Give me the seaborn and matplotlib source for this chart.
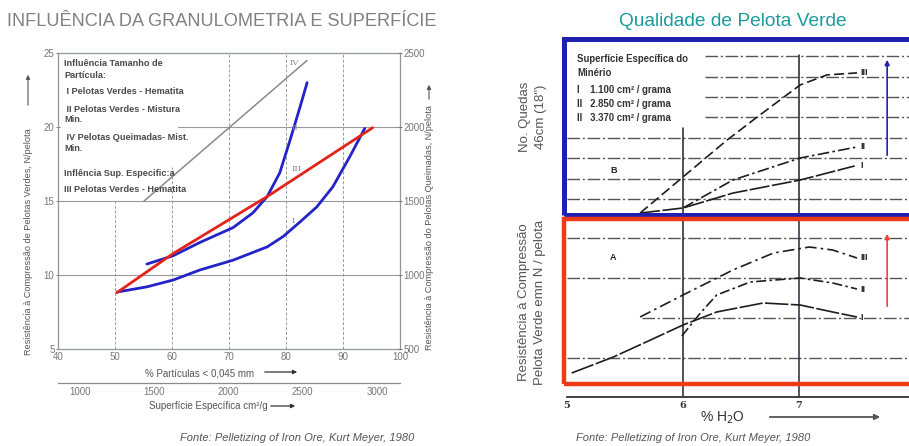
import numpy as np
import pandas as pd
import matplotlib
matplotlib.use("Agg")
import matplotlib.pyplot as plt
import seaborn as sns
from matplotlib.patches import Rectangle, FancyArrowPatch
from matplotlib import font_manager

W, H = 909, 446

# ---------------- data: left chart ----------------
x_I = [50.4, 55.6, 60.2, 64.9, 70.7, 76.7, 79.5, 82.5, 85.4, 88.2, 91.2, 93.8]
y_I = [8.85, 9.2, 9.66, 10.34, 11.0, 11.9, 12.6, 13.6, 14.6, 15.95, 18.0, 19.9]
x_II = [55.6, 60.2, 64.9, 70.7, 74.2, 76.7, 78.9, 80.7, 82.5, 83.7]
y_II = [10.74, 11.3, 12.2, 13.2, 14.2, 15.3, 16.9, 19.1, 21.4, 23.0]
x_III = [50.3, 60.2, 76.7, 95.2]
y_III = [8.8, 11.45, 15.3, 19.95]
x_IV = [55.1, 83.7]
y_IV = [15.0, 24.5]
left_xticks = [40, 50, 60, 70, 80, 90, 100]
left_yticks = [5, 10, 15, 20, 25]
right_yticks = [500, 1000, 1500, 2000, 2500]
surf_ticks = [1000, 1500, 2000, 2500, 3000]

# ---------------- data: right chart ----------------
up_III_x = [5.63, 6.0, 6.38, 6.64, 7.01, 7.24, 7.5]
up_III_y = [0.31, 2.08, 3.89, 5.02, 6.59, 7.08, 7.18]
up_II_x = [6.0, 6.43, 7.01, 7.5]
up_II_y = [0.56, 1.93, 3.01, 3.55]
up_I_x = [5.63, 6.0, 6.43, 7.01, 7.48]
up_I_y = [0.31, 0.56, 1.29, 1.93, 2.62]

lo_I_x = [5.04, 5.40, 5.72, 6.0, 6.29, 6.69, 7.01, 7.29, 7.5]
lo_I_y = [0.625, 1.025, 1.45, 1.825, 2.15, 2.375, 2.325, 2.15, 2.025]
lo_II_x = [5.99, 6.15, 6.29, 6.58, 7.01, 7.29, 7.5]
lo_II_y = [1.55, 2.125, 2.575, 2.9, 3.0, 2.875, 2.725]
lo_III_x = [5.63, 6.0, 6.43, 6.78, 7.09, 7.29, 7.5]
lo_III_y = [2.025, 2.575, 3.2, 3.625, 3.775, 3.7, 3.5]
h2o_ticks = [5, 6, 7]

# ---------------- style ----------------
sns.set_theme(style="white")
names = {f.name for f in font_manager.fontManager.ttflist}
NARROW = 'Liberation Sans Narrow' if 'Liberation Sans Narrow' in names else 'Liberation Sans'
plt.rcParams['font.family'] = ['Liberation Sans', 'DejaVu Sans']

fig = plt.figure(figsize=(W / 100, H / 100), dpi=100)
fig.patch.set_facecolor('white')


def rect(l, t, r, b):
    return [l / W, 1 - b / H, (r - l) / W, (b - t) / H]


def P(x, y):
    return (x / W, 1 - y / H)


def ftext(x, y, s, **kw):
    fig.text(x / W, 1 - y / H, s, **kw)


def farrow(x0, y0, x1, y1, color, lw=1.0, ms=8):
    a = FancyArrowPatch(P(x0, y0), P(x1, y1), transform=fig.transFigure,
                        arrowstyle='-|>', mutation_scale=ms, color=color, lw=lw)
    fig.add_artist(a)


# ================= LEFT CHART =================
ax = fig.add_axes(rect(58, 53, 400, 349))
ax.set_facecolor('none')
ax.set_xlim(40, 100)
ax.set_ylim(5, 25)

grid_c = '#9a9a9a'
for xv, ytop in [(50, 15), (60, 17.3), (70, 25), (80, 25), (90, 25)]:
    ax.plot([xv, xv], [5, ytop], color=grid_c, lw=0.7, ls=(0, (3, 2)), zorder=1)
ax.axhline(10, color=grid_c, lw=0.8, zorder=1)
ax.axhline(15, color=grid_c, lw=0.8, zorder=1)
ax.axhline(20, xmin=(61 - 40) / 60, color=grid_c, lw=0.8, zorder=1)

sns.lineplot(x=x_IV, y=y_IV, ax=ax, color='#8a8a8a', lw=1.1, sort=False, estimator=None)
sns.lineplot(x=x_I, y=y_I, ax=ax, color='#2323c8', lw=2.0, sort=False, estimator=None)
sns.lineplot(x=x_II, y=y_II, ax=ax, color='#2323c8', lw=2.0, sort=False, estimator=None)
sns.lineplot(x=x_III, y=y_III, ax=ax, color='#e3241b', lw=2.0, sort=False, estimator=None)

lab_kw = dict(fontsize=6, color='#8a8a8a', family='DejaVu Serif')
ax.text(80.7, 24.2, 'IV', **lab_kw)
ax.text(80.9, 19.8, 'II', **lab_kw)
ax.text(81.0, 17.0, 'III', **lab_kw)
ax.text(80.9, 13.5, 'I', **lab_kw)

for sp in ax.spines.values():
    sp.set_color('#8f9a8f')
    sp.set_linewidth(0.9)
ax.set_xticks(left_xticks)
ax.set_yticks(left_yticks)
ax.tick_params(axis='both', labelsize=7, colors='#777777', length=3, width=0.7,
               direction='inout', pad=1)
for t in ax.get_xticklabels() + ax.get_yticklabels():
    t.set_family(NARROW)
ax.set_xlabel('')
ax.set_ylabel('')

ax2 = ax.twinx()
ax2.set_ylim(500, 2500)
ax2.set_yticks(right_yticks)
ax2.tick_params(axis='y', labelsize=7, colors='#777777', length=3, width=0.7,
                direction='inout', pad=1)
for t in ax2.get_yticklabels():
    t.set_family(NARROW)
for sp in ax2.spines.values():
    sp.set_visible(False)
ax2.grid(False)


def fwd(x):
    return 1000 + (np.asarray(x) - 43.86) * 2000 / 52.1


def inv(s):
    return 43.86 + (np.asarray(s) - 1000) * 52.1 / 2000


sec = ax.secondary_xaxis(-0.115, functions=(fwd, inv))
sec.set_xticks(surf_ticks)
sec.tick_params(labelsize=7, colors='#777777', length=0, pad=3)
for t in sec.get_xticklabels():
    t.set_family(NARROW)
sec.spines['bottom'].set_color('#8a8a8a')
sec.spines['bottom'].set_linewidth(0.9)

# legend-like text block
tb_kw = dict(fontsize=6.6, color='#4a4a4a', fontweight='bold', family=NARROW, va='center')
for (yy, s) in [(64, 'Influência Tamanho de'), (75, 'Partícula:'),
                (92, ' I Pelotas Verdes - Hematita'),
                (109, ' II Pelotas Verdes - Mistura'), (120, 'Min.'),
                (137, ' IV Pelotas Queimadas- Mist.'), (148, 'Min.'),
                (173, 'Inflência Sup. Especific:a'),
                (190, 'III Pelotas Verdes - Hematita')]:
    ftext(64, yy, s, **tb_kw)

ftext(29, 242, 'Resistência à Compressão de Pelotas Verdes, N/pelota', rotation=90,
      fontsize=6.6, color='#555555', ha='center', va='center')
farrow(28, 108, 28, 72, '#555555', lw=0.8, ms=6)
ftext(429, 227, 'Resistência à Compressão do Pelotas Queimadas, N/pelota', rotation=90,
      fontsize=6.6, color='#555555', ha='center', va='center')
farrow(429, 102, 429, 82, '#555555', lw=0.8, ms=6)

ftext(200, 373, '% Partículas < 0,045 mm', fontsize=7, color='#555555', ha='center',
      va='center', family=NARROW)
farrow(262, 372, 300, 372, '#333333', lw=0.9, ms=6)
ftext(208, 406, 'Superfície Específica cm²/g', fontsize=7, color='#555555', ha='center',
      va='center', family=NARROW)
farrow(268, 406, 298, 406, '#333333', lw=0.9, ms=6)

ftext(297, 438, 'Fonte: Pelletizing of Iron Ore, Kurt Meyer, 1980', fontsize=8,
      color='#555555', style='italic', ha='center', va='center', family=NARROW)

ftext(7, 21, 'INFLUÊNCIA DA GRANULOMETRIA E SUPERFÍCIE', fontsize=13.1, color='#808080',
      ha='left', va='center', family=NARROW)

# ================= RIGHT CHART =================
XR = (5, 5 + 342 / 116)
axU = fig.add_axes(rect(567, 37, 909, 215))
axL = fig.add_axes(rect(567, 217, 909, 397))
for a in (axU, axL):
    a.set_facecolor('none')
    a.set_xlim(*XR)
    for sp in a.spines.values():
        sp.set_visible(False)
    a.set_yticks([])
axU.set_ylim(0.216, 8.94)
axL.set_ylim(0.025, 4.525)
axU.set_xticks([])

dd = (0, (9, 2, 1.5, 2))
gc = '#555555'


def xf(v):
    return (v - XR[0]) / (XR[1] - XR[0])


for k in range(1, 9):
    start = 5.0 if k <= 4 else 6.19
    axU.axhline(k, xmin=xf(start), color=gc, lw=1.0, ls=dd, zorder=1)
for k in range(1, 5):
    start = 5.65 if k == 2 else 5.0
    axL.axhline(k, xmin=xf(start), color=gc, lw=1.0, ls=dd, zorder=1)

axU.axvline(6, ymax=(215 - 128) / 178, color='#222222', lw=1.1)
axU.axvline(7, ymax=(215 - 55) / 178, color='#222222', lw=1.1)
axL.axvline(6, color='#222222', lw=1.1)
axL.axvline(7, color='#2a2440', lw=1.1)

cc = '#1e1e1e'
sns.lineplot(x=up_III_x, y=up_III_y, ax=axU, color=cc, lw=1.2, ls=(0, (6, 2.5)),
             sort=False, estimator=None)
sns.lineplot(x=up_II_x, y=up_II_y, ax=axU, color=cc, lw=1.2, ls=(0, (7, 2, 1.5, 2)),
             sort=False, estimator=None)
sns.lineplot(x=up_I_x, y=up_I_y, ax=axU, color=cc, lw=1.2, ls=(0, (12, 1.5)),
             sort=False, estimator=None)
sns.lineplot(x=lo_III_x, y=lo_III_y, ax=axL, color=cc, lw=1.2, ls=(0, (7, 2.5, 1.5, 2.5)),
             sort=False, estimator=None)
sns.lineplot(x=lo_II_x, y=lo_II_y, ax=axL, color=cc, lw=1.2, ls=(0, (6, 2, 1.5, 2)),
             sort=False, estimator=None)
sns.lineplot(x=lo_I_x, y=lo_I_y, ax=axL, color=cc, lw=1.2, ls=(0, (14, 1.5)),
             sort=False, estimator=None)

ck = dict(fontsize=6.5, color='#222222', fontweight='bold', va='center', ha='left')
axU.text(7.53, 7.18, 'III', **ck)
axU.text(7.53, 3.55, 'II', **ck)
axU.text(7.53, 2.62, 'I', **ck)
axU.text(5.37, 2.42, 'B', **ck)
axL.text(7.53, 3.5, 'III', **ck)
axL.text(7.53, 2.725, 'II', **ck)
axL.text(7.53, 2.0, 'I', **ck)
axL.text(5.37, 3.5, 'A', **ck)

axU.annotate('', xy=(7.76, 7.96), xytext=(7.76, 3.01),
             arrowprops=dict(arrowstyle='-|>', color='#2323b0', lw=1.2, mutation_scale=7))
axL.annotate('', xy=(7.76, 4.175), xytext=(7.76, 2.225),
             arrowprops=dict(arrowstyle='-|>', color='#ee4433', lw=1.2, mutation_scale=7))

axL.spines['bottom'].set_visible(True)
axL.spines['bottom'].set_color('#333333')
axL.spines['bottom'].set_linewidth(1.3)
axL.set_xticks(h2o_ticks)
axL.tick_params(axis='x', labelsize=7, colors='#333333', length=4, width=1.1,
                direction='inout', pad=1)
for t in axL.get_xticklabels():
    t.set_fontweight('bold')
    t.set_family('DejaVu Serif')
for a in (axU, axL):
    a.set_xlabel('')
    a.set_ylabel('')

# boxes
fig.add_artist(Rectangle(P(564, 215), (920 - 564) / W, (215 - 39) / H, transform=fig.transFigure,
                         fill=False, ec='#1f1fb0', lw=3.6, zorder=10))
fig.add_artist(Rectangle(P(564, 384), (920 - 564) / W, (384 - 219) / H, transform=fig.transFigure,
                         fill=False, ec='#ef3a17', lw=3.2, zorder=10))

# upper text block
ub = dict(fontsize=6.9, color='#333333', fontweight='bold', family=NARROW, va='center', ha='left')
ftext(577, 59, 'Superfície Específica do', **ub)
ftext(577, 73, 'Minério', **ub)
ftext(577, 90, 'I    1.100 cm² / grama', **ub)
ftext(577, 104, 'II   2.850 cm² / grama', **ub)
ftext(577, 118, 'II   3.370 cm² / grama', **ub)

ftext(533, 117, 'No. Quedas\n46cm (18")', rotation=90, fontsize=9.5, color='#555555',
      ha='center', va='center', linespacing=1.5)
ftext(532, 302, 'Resistência à Compressão\nPelota Verde emn N / pelota', rotation=90,
      fontsize=9.5, color='#555555', ha='center', va='center', linespacing=1.45)

ftext(722, 418, '% H$_2$O', fontsize=10, color='#333333', ha='center', va='center')
farrow(767, 417, 883, 417, '#555555', lw=1.3, ms=8)

ftext(693, 438, 'Fonte: Pelletizing of Iron Ore, Kurt Meyer, 1980', fontsize=8,
      color='#555555', style='italic', ha='center', va='center', family=NARROW)
ftext(733, 21, 'Qualidade de Pelota Verde', fontsize=13.8, color='#1b9c9c',
      ha='center', va='center', family=NARROW)

fig.savefig('out.png', dpi=100)
